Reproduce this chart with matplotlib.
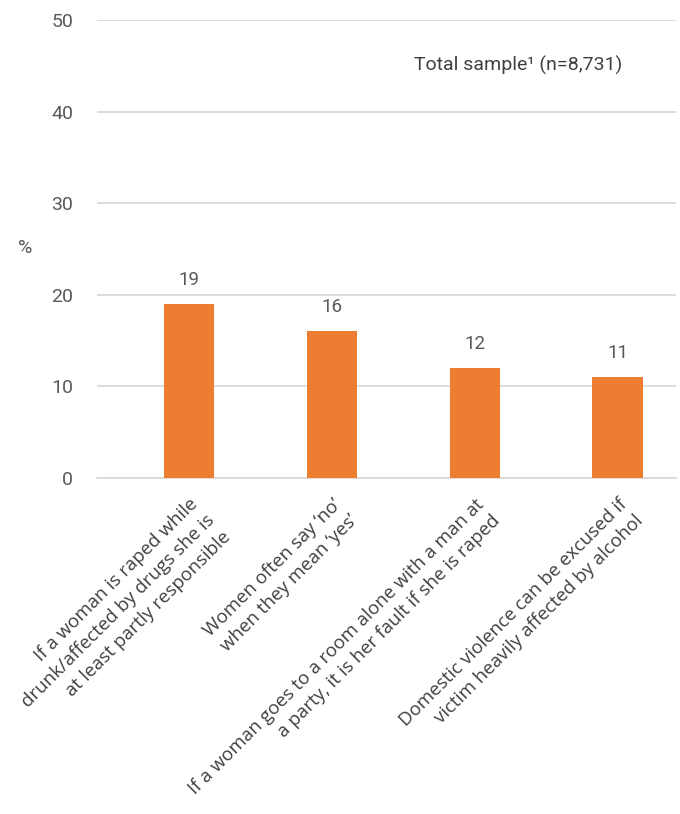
import matplotlib.pyplot as plt
import numpy as np
from matplotlib.transforms import ScaledTranslation

statements = [
    "If a woman is raped while\ndrunk/affected by drugs she is\nat least partly responsible",
    "Women often say \u2018no\u2019\nwhen they mean \u2018yes\u2019",
    "If a woman goes to a room alone with a man at\na party, it is her fault if she is raped",
    "Domestic violence can be excused if\nvictim heavily affected by alcohol",
]
agree_pct = [19, 16, 12, 11]
y_ticks = [0, 10, 20, 30, 40, 50]

orange = "#ED7D31"
grid_grey = "#D9D9D9"
text_grey = "#595959"

fig = plt.figure(figsize=(6.8, 8.14), dpi=100)
ax = fig.add_axes([0.1426, 0.4128, 0.8514, 0.5626])

x = np.arange(len(statements))
bars = ax.bar(x, agree_pct, width=0.355, color=orange, zorder=3)

for xi, v in zip(x, agree_pct):
    ax.annotate(f"{v}", (xi, v), xytext=(0, 11), textcoords="offset points",
                ha="center", va="bottom", fontsize=13.5, color=text_grey,
                family="Roboto")

ax.set_ylim(0, 50)
ax.set_xlim(-0.643, 3.406)
ax.set_yticks(y_ticks)
ax.set_yticklabels([str(t) for t in y_ticks], family="Roboto", fontsize=14,
                   color=text_grey)
ax.yaxis.grid(True, color=grid_grey, linewidth=1.3, zorder=0)
ax.tick_params(axis="y", length=0, pad=17)
ax.tick_params(axis="x", length=0)
for side in ["top", "right", "left"]:
    ax.spines[side].set_visible(False)
ax.spines["bottom"].set_color(grid_grey)
ax.spines["bottom"].set_linewidth(1.3)

ax.set_xticks(x)
ax.set_xticklabels(statements, rotation=45, ha="right", va="top",
                   rotation_mode="anchor", multialignment="right",
                   family="Open Sans", fontsize=13.5, linespacing=1.35,
                   color="#404040")
shift = ScaledTranslation(0 / 72, -9 / 72, fig.dpi_scale_trans)
for lab in ax.get_xticklabels():
    lab.set_transform(lab.get_transform() + shift)

fig.text(25 / 680, 1 - 248 / 814, "%", ha="center", va="center",
         family="Roboto", fontsize=14, color=text_grey)
ax.text(2.3, 45, "Total sample\u00b9 (n=8,731)", ha="center", va="center",
        family="Roboto", fontsize=14, color="#404040")

fig.savefig("out.png", dpi=100)
